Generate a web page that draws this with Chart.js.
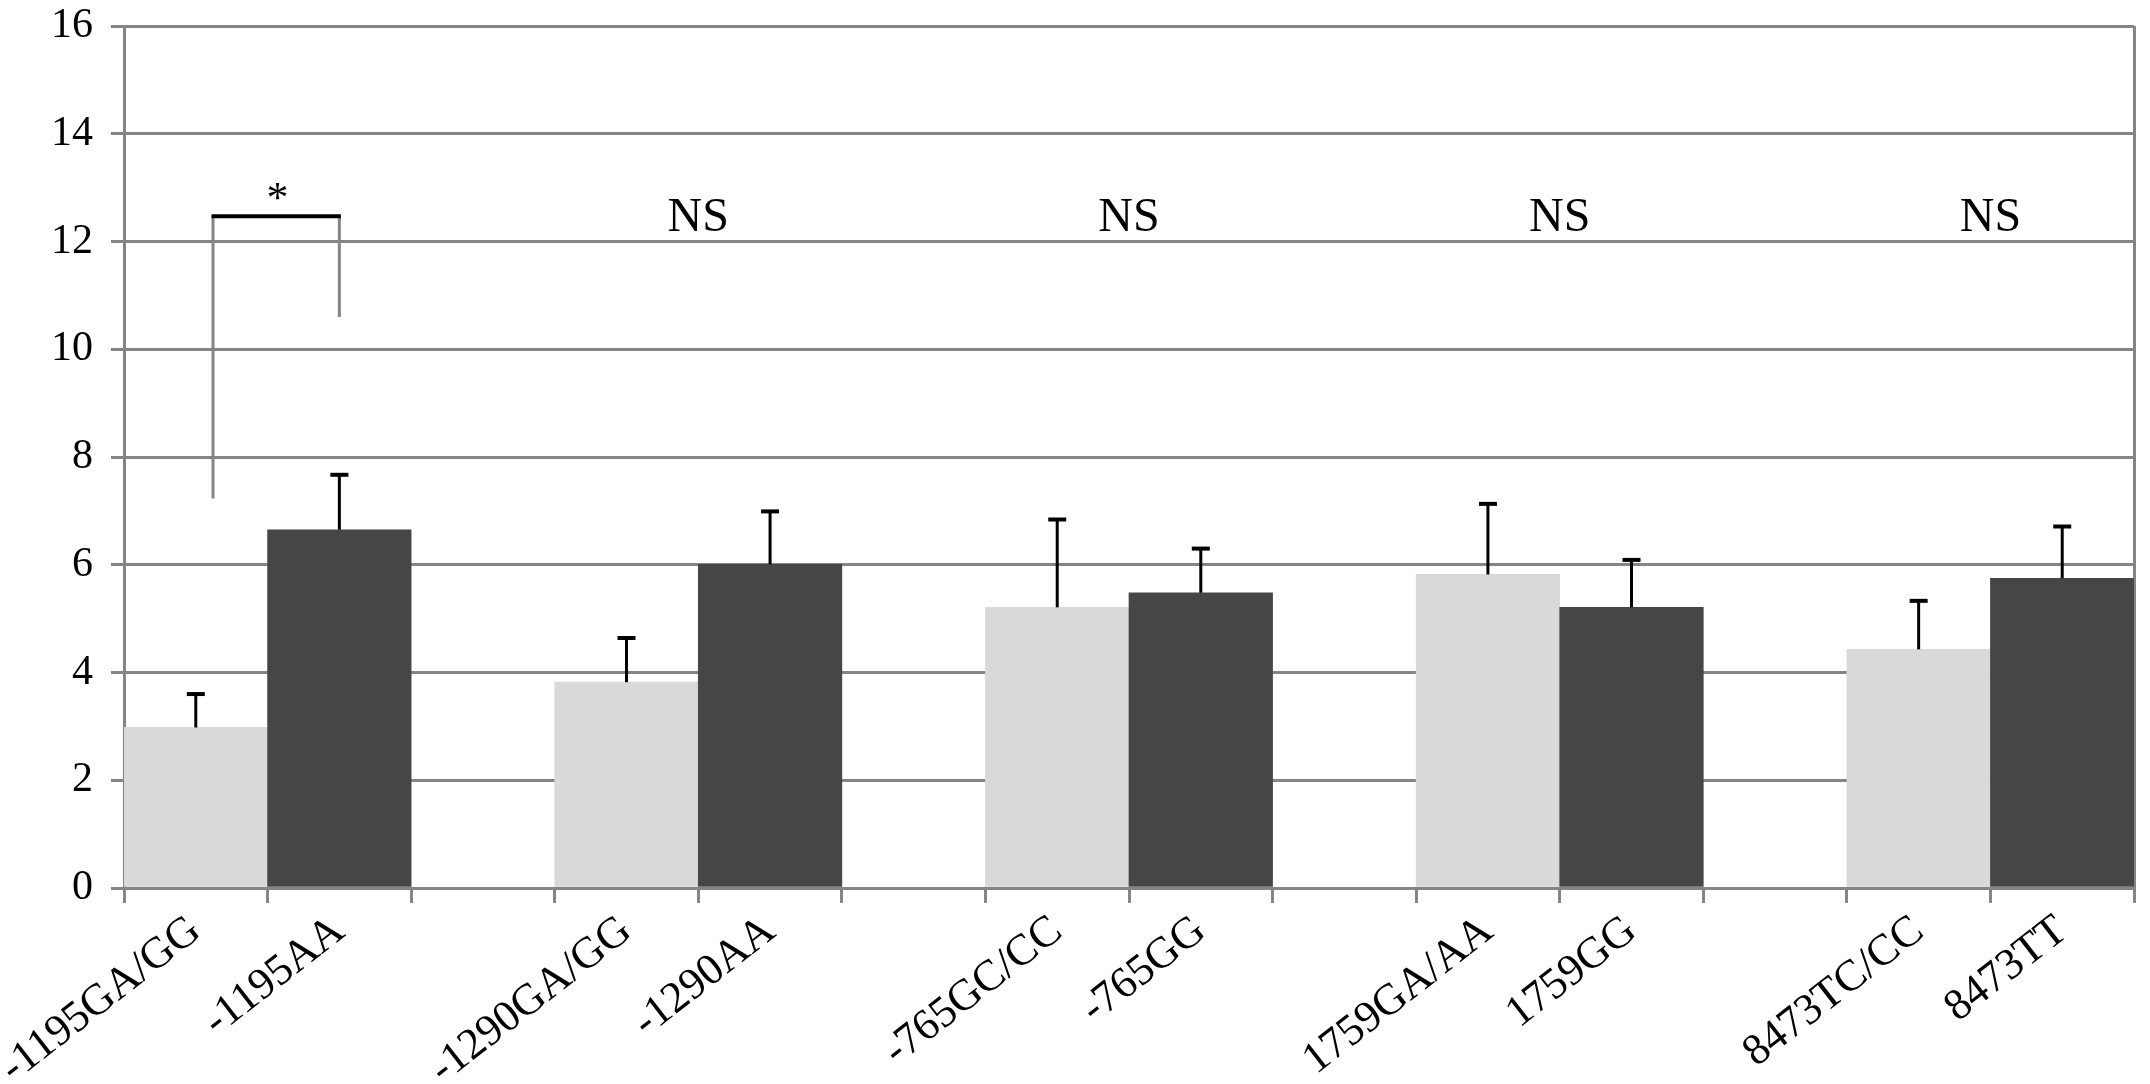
<!DOCTYPE html>
<html>
<head>
<meta charset="utf-8">
<script src="https://cdn.jsdelivr.net/npm/chart.js@4.4.1/dist/chart.umd.min.js"></script>
<style>
  html, body { margin: 0; padding: 0; background: #fff; }
  #wrap { width: 2150px; height: 1084px; position: relative; }
</style>
</head>
<body>
<div id="wrap"><canvas id="chart"></canvas></div>
<script>
// genotype pairs, light bar first then dark bar
const GENOTYPES = ["-1195GA/GG", "-1195AA", "-1290GA/GG", "-1290AA", "-765GC/CC", "-765GG",
                   "1759GA/AA", "1759GG", "8473TC/CC", "8473TT"];
const MEANS = [2.98, 6.65, 3.82, 6.01, 5.21, 5.48, 5.82, 5.21, 4.43, 5.75];
const ERRORS = [0.62, 1.02, 0.82, 0.98, 1.63, 0.82, 1.31, 0.88, 0.90, 0.96];
const PAIR_MARKS = ["*", "NS", "NS", "NS", "NS"];

const Y_MIN = 0, Y_MAX = 16, Y_STEP = 2;

const FONT = "'Liberation Serif', 'Times New Roman', serif";
const GRID = "#858585";
const LIGHT = "#d9d9d9";
const DARK = "#464646";

// lay the pairs out on category slots with an empty slot between pairs
const slotLabels = [];
const slotValues = [];
const slotColors = [];
const slotErrors = [];
for (let p = 0; p < GENOTYPES.length / 2; p++) {
  for (let k = 0; k < 2; k++) {
    const i = p * 2 + k;
    slotLabels.push(GENOTYPES[i]);
    slotValues.push(MEANS[i]);
    slotErrors.push(ERRORS[i]);
    slotColors.push(k === 0 ? LIGHT : DARK);
  }
  if (p < GENOTYPES.length / 2 - 1) {
    slotLabels.push("");
    slotValues.push(null);
    slotErrors.push(null);
    slotColors.push(LIGHT);
  }
}

const annotations = {
  id: "annotations",
  afterDatasetsDraw(chart) {
    const { ctx, scales: { x, y } } = chart;
    const meta = chart.getDatasetMeta(0);
    ctx.save();

    // error bars (upper only)
    ctx.strokeStyle = "#000";
    meta.data.forEach((bar, i) => {
      if (slotValues[i] == null) return;
      const yb = y.getPixelForValue(slotValues[i]);
      const yt = y.getPixelForValue(slotValues[i] + slotErrors[i]);
      ctx.lineWidth = 3;
      ctx.beginPath();
      ctx.moveTo(bar.x, yb);
      ctx.lineTo(bar.x, yt);
      ctx.stroke();
      ctx.lineWidth = 4;
      ctx.beginPath();
      ctx.moveTo(bar.x - 9, yt);
      ctx.lineTo(bar.x + 9, yt);
      ctx.stroke();
    });

    // significance bracket over the first pair
    const xl = x.getPixelForValue(0.12), xr = x.getPixelForValue(1);
    const yTop = y.getPixelForValue(12.47);
    ctx.strokeStyle = GRID;
    ctx.lineWidth = 3;
    ctx.beginPath();
    ctx.moveTo(xl, y.getPixelForValue(7.23));
    ctx.lineTo(xl, yTop);
    ctx.moveTo(xr, yTop);
    ctx.lineTo(xr, y.getPixelForValue(10.6));
    ctx.stroke();
    ctx.strokeStyle = "#000";
    ctx.lineWidth = 4;
    ctx.beginPath();
    ctx.moveTo(xl - 1.5, yTop);
    ctx.lineTo(xr + 1.5, yTop);
    ctx.stroke();

    // pair labels
    ctx.fillStyle = "#000";
    ctx.textAlign = "center";
    ctx.textBaseline = "alphabetic";
    PAIR_MARKS.forEach((m, p) => {
      if (m === "*") {
        ctx.font = "44px " + FONT;
        ctx.fillText(m, x.getPixelForValue(0.57), y.getPixelForValue(12.55));
      } else {
        ctx.font = "48px " + FONT;
        ctx.fillText(m, x.getPixelForValue(p * 3 + 0.5), y.getPixelForValue(12.2));
      }
    });
    ctx.restore();
  }
};

new Chart(document.getElementById("chart"), {
  type: "bar",
  data: {
    labels: slotLabels,
    datasets: [{
      data: slotValues,
      backgroundColor: slotColors,
      borderWidth: 0,
      barPercentage: 1,
      categoryPercentage: 1
    }]
  },
  options: {
    responsive: true,
    maintainAspectRatio: false,
    animation: false,
    layout: { padding: { top: 26, right: 16, bottom: 0, left: 0 } },
    plugins: { legend: { display: false }, tooltip: { enabled: false } },
    scales: {
      x: {
        grid: {
          offset: true,
          color: (c) => (c.index === undefined ? GRID : "rgba(0,0,0,0)"),
          lineWidth: 3,
          tickColor: GRID,
          tickWidth: 3,
          tickLength: 15
        },
        border: { color: GRID, width: 3 },
        ticks: {
          autoSkip: false,
          minRotation: 38,
          maxRotation: 38,
          color: "#000",
          padding: 2,
          font: { family: FONT, size: 44 }
        },
        afterFit: (s) => { s.height = 196; }
      },
      y: {
        min: Y_MIN,
        max: Y_MAX,
        ticks: {
          stepSize: Y_STEP,
          color: "#000",
          padding: 18,
          font: { family: FONT, size: 42 }
        },
        grid: { color: GRID, lineWidth: 3, tickLength: 13 },
        border: { color: GRID, width: 3 },
        afterFit: (s) => {
          s.width = 123;
          s.paddingTop = 0;
          s.paddingBottom = 0;
        }
      }
    }
  },
  plugins: [annotations]
});
</script>
</body>
</html>
